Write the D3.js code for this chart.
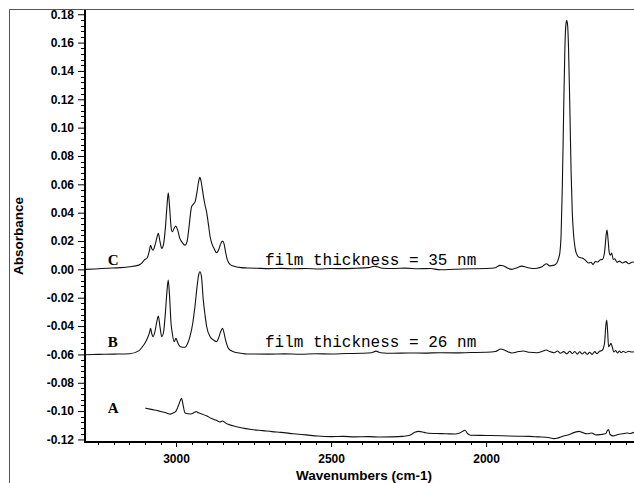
<!DOCTYPE html>
<html><head><meta charset="utf-8">
<script src="https://cdn.jsdelivr.net/npm/d3@7"></script>
<style>html,body{margin:0;padding:0;background:#fff;}svg{display:block;}</style>
</head><body>
<script>
// ---- data ----
const yTicks = [-0.12,-0.10,-0.08,-0.06,-0.04,-0.02,0.00,0.02,0.04,0.06,0.08,0.10,0.12,0.14,0.16,0.18];
const xTicks = [3000, 2500, 2000];
const xLabel = "Wavenumbers (cm-1)";
const yLabel = "Absorbance";
const seriesNames = ["C", "B", "A"];
const filmLabels = ["film thickness = 35 nm", "film thickness = 26 nm"];

const specC = [[3293,0.000],[3260,0.0003],[3220,0.0008],[3180,0.0012],[3150,0.0018],[3120,0.003],[3108,0.005],[3100,0.007],[3093,0.008],[3086,0.013],[3082,0.017],[3078,0.0145],[3074,0.0135],[3068,0.017],[3062,0.022],[3057,0.0254],[3052,0.020],[3046,0.0148],[3040,0.018],[3034,0.030],[3029,0.045],[3025,0.054],[3021,0.045],[3016,0.030],[3012,0.0265],[3006,0.029],[3001,0.0305],[2995,0.028],[2988,0.022],[2980,0.019],[2971,0.0171],[2964,0.020],[2958,0.030],[2950,0.044],[2944,0.046],[2938,0.048],[2932,0.055],[2927,0.062],[2923,0.0649],[2919,0.062],[2914,0.055],[2908,0.047],[2901,0.040],[2895,0.031],[2890,0.023],[2884,0.018],[2878,0.015],[2869,0.0117],[2862,0.014],[2856,0.018],[2850,0.020],[2845,0.018],[2840,0.012],[2834,0.0065],[2826,0.0035],[2815,0.0023],[2790,0.0012],[2770,0.001],[2740,0.0008],[2700,0.0005],[2660,0.0007],[2620,0.0004],[2580,0.0006],[2540,0.0003],[2500,0.0006],[2460,0.0005],[2420,0.0008],[2380,0.0012],[2360,0.0022],[2350,0.0018],[2335,0.0008],[2300,0.0006],[2260,0.0009],[2220,0.0004],[2180,0.0006],[2148,-0.0003],[2100,0.0001],[2050,0.0004],[2000,0.0006],[1970,0.0012],[1955,0.0028],[1945,0.0026],[1930,0.0008],[1917,0.000],[1900,0.0012],[1885,0.0023],[1870,0.0015],[1850,0.0006],[1836,0.0008],[1820,0.0018],[1806,0.004],[1795,0.0025],[1780,0.003],[1772,0.0045],[1766,0.008],[1762,0.012],[1758,0.025],[1754,0.06],[1750,0.11],[1746,0.155],[1743,0.172],[1740,0.1755],[1737,0.172],[1734,0.155],[1730,0.115],[1726,0.07],[1722,0.04],[1718,0.025],[1713,0.015],[1706,0.010],[1700,0.0085],[1690,0.008],[1680,0.0065],[1670,0.0045],[1662,0.005],[1655,0.0035],[1648,0.0055],[1640,0.0052],[1632,0.0068],[1625,0.007],[1618,0.012],[1613,0.024],[1610,0.0277],[1607,0.022],[1603,0.012],[1599,0.010],[1595,0.0115],[1590,0.007],[1585,0.0075],[1578,0.005],[1570,0.0058],[1560,0.0045],[1550,0.0055],[1540,0.004],[1530,0.005],[1523,0.0052]];

const specB = [[3293,-0.0602],[3250,-0.0600],[3200,-0.0598],[3150,-0.0595],[3120,-0.0575],[3108,-0.0545],[3100,-0.052],[3093,-0.049],[3086,-0.045],[3082,-0.0416],[3078,-0.0455],[3074,-0.0475],[3068,-0.044],[3062,-0.037],[3057,-0.033],[3052,-0.040],[3046,-0.0475],[3040,-0.044],[3034,-0.030],[3029,-0.015],[3025,-0.0075],[3021,-0.018],[3016,-0.038],[3012,-0.0451],[3006,-0.051],[3000,-0.0487],[2994,-0.052],[2986,-0.0546],[2971,-0.055],[2962,-0.052],[2955,-0.0475],[2946,-0.038],[2939,-0.0264],[2932,-0.012],[2927,-0.004],[2923,-0.0017],[2918,-0.005],[2912,-0.0217],[2906,-0.033],[2901,-0.0405],[2890,-0.0475],[2878,-0.050],[2869,-0.051],[2862,-0.048],[2856,-0.044],[2850,-0.0416],[2845,-0.045],[2840,-0.050],[2831,-0.0557],[2815,-0.0581],[2790,-0.0592],[2772,-0.0597],[2700,-0.0598],[2650,-0.0596],[2600,-0.0599],[2550,-0.0595],[2500,-0.0597],[2450,-0.0594],[2400,-0.0592],[2370,-0.0588],[2355,-0.0577],[2340,-0.0588],[2300,-0.0592],[2250,-0.059],[2200,-0.0591],[2148,-0.0588],[2100,-0.0589],[2050,-0.0587],[2000,-0.0585],[1970,-0.058],[1952,-0.0562],[1940,-0.057],[1917,-0.059],[1895,-0.058],[1880,-0.0576],[1860,-0.0585],[1836,-0.0588],[1818,-0.0578],[1806,-0.0569],[1795,-0.058],[1780,-0.0588],[1770,-0.0576],[1760,-0.0592],[1750,-0.0580],[1740,-0.0596],[1730,-0.0578],[1722,-0.0594],[1714,-0.0579],[1706,-0.0598],[1698,-0.0581],[1690,-0.0597],[1682,-0.0583],[1674,-0.0599],[1666,-0.0585],[1658,-0.0600],[1650,-0.0580],[1642,-0.0595],[1634,-0.0578],[1626,-0.0572],[1618,-0.052],[1614,-0.040],[1611,-0.0358],[1608,-0.044],[1605,-0.0546],[1601,-0.0535],[1597,-0.0522],[1593,-0.0548],[1588,-0.0583],[1582,-0.0572],[1576,-0.0590],[1570,-0.0576],[1564,-0.0588],[1558,-0.0578],[1550,-0.0586],[1540,-0.0578],[1530,-0.0583],[1523,-0.0581]];

const specA = [[3099,-0.0979],[3080,-0.0988],[3054,-0.1000],[3035,-0.1010],[3018,-0.1021],[3008,-0.1012],[3000,-0.1000],[2992,-0.0960],[2986,-0.0925],[2982,-0.0910],[2977,-0.0960],[2971,-0.1013],[2953,-0.1020],[2940,-0.1008],[2935,-0.1003],[2928,-0.1012],[2917,-0.1020],[2900,-0.1035],[2887,-0.1050],[2870,-0.1065],[2858,-0.1077],[2850,-0.1070],[2840,-0.1085],[2816,-0.1104],[2790,-0.1118],[2757,-0.1130],[2720,-0.1138],[2690,-0.1145],[2662,-0.1150],[2620,-0.1160],[2580,-0.1168],[2543,-0.1176],[2500,-0.1180],[2460,-0.1178],[2425,-0.1182],[2380,-0.1180],[2340,-0.1183],[2306,-0.1182],[2270,-0.1178],[2246,-0.1171],[2230,-0.1150],[2217,-0.1143],[2200,-0.1150],[2187,-0.1156],[2160,-0.1158],[2128,-0.1160],[2100,-0.1162],[2085,-0.1155],[2072,-0.1138],[2068,-0.1135],[2060,-0.1158],[2050,-0.1170],[2000,-0.1172],[1950,-0.1174],[1900,-0.1177],[1860,-0.1178],[1831,-0.1182],[1800,-0.1186],[1780,-0.1194],[1772,-0.1192],[1750,-0.1175],[1736,-0.1168],[1715,-0.1150],[1700,-0.1143],[1690,-0.1150],[1675,-0.1160],[1660,-0.1155],[1645,-0.1168],[1630,-0.1165],[1615,-0.1160],[1608,-0.1135],[1605,-0.1130],[1600,-0.1165],[1590,-0.1175],[1575,-0.1165],[1560,-0.1160],[1546,-0.1155],[1535,-0.1158],[1523,-0.1150]];

// ---- layout ----
const W = 634, H = 483;
const L = 85, R = 634, T = 10, B = 442;

const svg = d3.select("body").append("svg").attr("width", W).attr("height", H);

const x = d3.scaleLinear().domain([3293.5, 1523]).range([L, R]);
const y = d3.scaleLinear().domain([-0.1218, 0.183]).range([B, T]);

// outer frame
svg.append("line").attr("x1", 9.5).attr("x2", W).attr("y1", 9.5).attr("y2", 9.5).attr("stroke", "#555").attr("stroke-width", 1);
svg.append("line").attr("x1", 9.5).attr("x2", 9.5).attr("y1", 9.5).attr("y2", H).attr("stroke", "#555").attr("stroke-width", 1);

svg.append("clipPath").attr("id", "clip").append("rect").attr("x", L).attr("y", T).attr("width", R - L).attr("height", B - T);

// minor ticks
const yMinor = d3.range(-0.12, 0.1801, 0.004).map(v => +v.toFixed(3)).filter(v => !yTicks.some(t => Math.abs(t - v) < 1e-6));
svg.append("g").selectAll("line").data(yMinor).join("line")
  .attr("x1", L - 4).attr("x2", L).attr("y1", d => Math.round(y(d)) + 0.5).attr("y2", d => Math.round(y(d)) + 0.5)
  .attr("stroke", "#000").attr("stroke-width", 1);
const xMinor = d3.range(1550, 3300, 50).filter(v => !xTicks.includes(v));
svg.append("g").selectAll("line").data(xMinor).join("line")
  .attr("x1", d => Math.round(x(d)) + 0.5).attr("x2", d => Math.round(x(d)) + 0.5).attr("y1", B).attr("y2", B + 3)
  .attr("stroke", "#000").attr("stroke-width", 1);

// y axis
const yAxis = d3.axisLeft(y).tickValues(yTicks).tickSize(7).tickPadding(4)
  .tickFormat(d => (Math.abs(d) < 1e-9 ? 0 : d).toFixed(2));
const gy = svg.append("g").attr("transform", `translate(${L},0)`).call(yAxis);
gy.select(".domain").remove();
gy.selectAll("line").attr("stroke", "#000");
gy.selectAll("text").attr("font-family", "Liberation Sans, Arial, sans-serif").attr("font-weight", "bold").attr("font-size", 12).attr("fill", "#000");

// x axis
const xAxis = d3.axisBottom(x).tickValues(xTicks).tickSize(5).tickPadding(7).tickFormat(d3.format("d"));
const gx = svg.append("g").attr("transform", `translate(0,${B})`).call(xAxis);
gx.select(".domain").remove();
gx.selectAll("line").attr("stroke", "#000");
gx.selectAll("text").attr("font-family", "Liberation Sans, Arial, sans-serif").attr("font-weight", "bold").attr("font-size", 12).attr("fill", "#000");

// axis lines
svg.append("line").attr("x1", L).attr("x2", L).attr("y1", T).attr("y2", B + 1).attr("stroke", "#000").attr("stroke-width", 2);
svg.append("line").attr("x1", L - 1).attr("x2", R).attr("y1", B).attr("y2", B).attr("stroke", "#000").attr("stroke-width", 2);

// spectra
const line = d3.line().x(d => x(d[0])).y(d => y(d[1])).curve(d3.curveMonotoneX);
const gs = svg.append("g").attr("clip-path", "url(#clip)");
[specC, specB, specA].forEach(s => {
  gs.append("path").datum(s).attr("d", line).attr("fill", "none").attr("stroke", "#111").attr("stroke-width", 1.1).attr("stroke-linejoin", "round");
});

// series labels
const labelPos = [[3220, 0.003], [3220, -0.0546], [3220, -0.1012]];
seriesNames.forEach((n, i) => {
  svg.append("text").attr("x", x(labelPos[i][0])).attr("y", y(labelPos[i][1]))
    .attr("font-family", "Liberation Serif, Times New Roman, serif").attr("font-size", 15).attr("font-weight", "bold")
    .attr("fill", "#000").text(n);
});
const filmPos = [[2713, 0.003], [2713, -0.0546]];
filmLabels.forEach((t, i) => {
  svg.append("text").attr("x", x(filmPos[i][0])).attr("y", y(filmPos[i][1]))
    .attr("font-family", "Liberation Mono, Courier New, monospace").attr("font-size", 16)
    .attr("fill", "#000").attr("xml:space", "preserve").style("white-space", "pre").text(t);
});

// axis titles
svg.append("text").attr("x", 364).attr("y", 480).attr("text-anchor", "middle")
  .attr("font-family", "Liberation Sans, Arial, sans-serif").attr("font-weight", "bold").attr("font-size", 13.5).text(xLabel);
svg.append("text").attr("transform", "translate(23,236) rotate(-90)").attr("text-anchor", "middle")
  .attr("font-family", "Liberation Sans, Arial, sans-serif").attr("font-weight", "bold").attr("font-size", 13.5).text(yLabel);
</script>
</body></html>
